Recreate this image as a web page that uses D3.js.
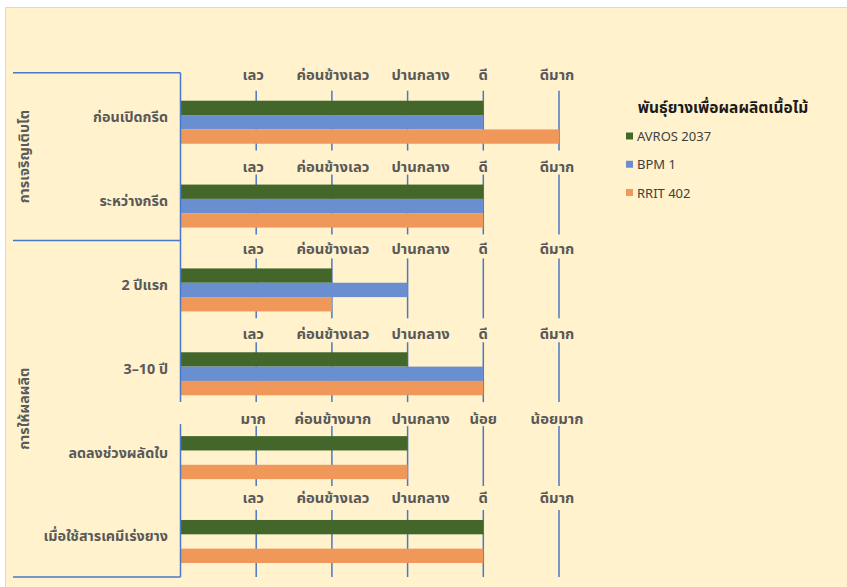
<!DOCTYPE html>
<html>
<head>
<meta charset="utf-8">
<script src="https://cdn.jsdelivr.net/npm/d3@7/dist/d3.min.js"></script>
<style>
  html, body { margin: 0; padding: 0; background: #ffffff; }
  svg { display: block; }
  text { font-family: "Noto Sans Thai", "Noto Sans Thai UI", "Leelawadee UI", Tahoma, "DejaVu Sans", sans-serif; }
</style>
</head>
<body>
<svg id="chart" width="847" height="587"></svg>
<script>
// Rubber clone ratings (0 = none, 1..5 = rating level)
const categories = ["ก่อนเปิดกรีด", "ระหว่างกรีด", "2 ปีแรก", "3–10 ปี", "ลดลงช่วงผลัดใบ", "เมื่อใช้สารเคมีเร่งยาง"];
const seriesNames = ["AVROS 2037", "BPM 1", "RRIT 402"];
const avros2037 = [4, 4, 2, 3, 3, 4];
const bpm1      = [4, 4, 3, 4, 0, 0];
const rrit402   = [5, 4, 2, 4, 3, 4];
const seriesValues = [avros2037, bpm1, rrit402];

// Level names shown above each category row
const qualityTicks = ["เลว", "ค่อนข้างเลว", "ปานกลาง", "ดี", "ดีมาก"];
const amountTicks  = ["มาก", "ค่อนข้างมาก", "ปานกลาง", "น้อย", "น้อยมาก"];
const rowTickSets  = [qualityTicks, qualityTicks, qualityTicks, qualityTicks, amountTicks, qualityTicks];

// Category groups drawn as bracketed panels on the left
const groupNames = ["การเจริญเติบโต", "การให้ผลผลิต"];
const groupMembers = [["ก่อนเปิดกรีด", "ระหว่างกรีด"], ["2 ปีแรก", "3–10 ปี", "ลดลงช่วงผลัดใบ", "เมื่อใช้สารเคมีเร่งยาง"]];

const legendTitle = "พันธุ์ยางเพื่อผลผลิตเนื้อไม้";
const colors = ["#43672b", "#6a8fd0", "#f0975a"];

const svg = d3.select("#chart");
const GRID = "#4a78c8";
const TEXT = "#595959";

// chart area
svg.append("rect").attr("x", 5.5).attr("y", 7.5).attr("width", 850).attr("height", 590)
  .attr("fill", "#fff2cc").attr("stroke", "#d9d9d9").attr("stroke-width", 1);

const x = d3.scaleLinear().domain([0, 5]).range([180.5, 559]);
const y = d3.scaleBand().domain(categories).range([80.3, 583.4]).paddingInner(0.487).paddingOuter(0.2435);
const ySeries = d3.scaleBand().domain(seriesNames).range([0, y.bandwidth()]).padding(0);
const levels = d3.range(1, 6);
const plotBottom = y(categories[categories.length - 1]) + y.bandwidth() + 14;

// gridline segments per row (interrupted by each row's level labels)
categories.forEach((c, i) => {
  const top = y(c) - 10;
  const bottom = i === categories.length - 1 ? plotBottom : y(c) + y.step() - 34;
  svg.append("g").selectAll("line").data(levels).join("line")
    .attr("x1", d => x(d)).attr("x2", d => x(d))
    .attr("y1", top).attr("y2", bottom)
    .attr("stroke", GRID).attr("stroke-width", 1.5);
});

// bars
const rows = svg.append("g").selectAll("g").data(categories).join("g")
  .attr("transform", c => `translate(0,${y(c)})`);
rows.selectAll("rect")
  .data((c, i) => seriesNames.map((s, k) => ({ s, k, v: seriesValues[k][i] })).filter(d => d.v > 0))
  .join("rect")
  .attr("x", x(0))
  .attr("y", d => ySeries(d.s))
  .attr("width", d => x(d.v) - x(0))
  .attr("height", ySeries.bandwidth())
  .attr("fill", d => colors[d.k]);

// level labels above each row
const labelLift = [21, 12.5, 14.5, 13.5, 12.5, 16.5];
const labelNudge = [-3, 1, 13, 0, -2];
categories.forEach((c, i) => {
  svg.append("g").selectAll("text").data(rowTickSets[i]).join("text")
    .attr("x", (t, k) => x(levels[k]) + labelNudge[k])
    .attr("y", y(c) - labelLift[i])
    .attr("text-anchor", "middle")
    .attr("font-size", 14.8).attr("font-weight", "bold").attr("fill", TEXT)
    .text(t => t);
});

// category labels
svg.append("g").selectAll("text").data(categories).join("text")
  .attr("x", 168).attr("y", c => y(c) + y.bandwidth() / 2)
  .attr("text-anchor", "end")
  .attr("font-size", 14.3).attr("font-weight", "bold").attr("fill", TEXT)
  .text(c => c);

// category axis line (broken where the amount labels sit)
const axisTop = y(categories[0]) - 28;
const breakRow = y(categories[4]);
[[axisTop, breakRow - 34], [breakRow - 12, plotBottom]].forEach(([a, b]) => {
  svg.append("line").attr("x1", x(0)).attr("x2", x(0)).attr("y1", a).attr("y2", b)
    .attr("stroke", GRID).attr("stroke-width", 1.5);
});

// group brackets and rotated group names
groupNames.forEach((g, gi) => {
  const members = groupMembers[gi];
  const gTop = gi === 0 ? axisTop : y(members[0]) - 28;
  const gBottom = gi === groupNames.length - 1 ? plotBottom : y(groupMembers[gi + 1][0]) - 28;
  svg.append("line").attr("x1", 13).attr("x2", x(0)).attr("y1", gTop).attr("y2", gTop)
    .attr("stroke", GRID).attr("stroke-width", 1.5);
  if (gi === groupNames.length - 1) {
    svg.append("line").attr("x1", 13).attr("x2", x(0)).attr("y1", gBottom).attr("y2", gBottom)
      .attr("stroke", GRID).attr("stroke-width", 1.5);
  }
  const cy = (gTop + gBottom) / 2;
  svg.append("text")
    .attr("transform", `translate(24,${cy}) rotate(-90)`)
    .attr("text-anchor", "middle").attr("dy", "0.35em")
    .attr("font-size", 14.3).attr("font-weight", "bold").attr("fill", TEXT)
    .text(g);
});

// legend
const legend = svg.append("g");
legend.append("text").attr("x", 723).attr("y", 113).attr("text-anchor", "middle")
  .attr("font-size", 15.5).attr("font-weight", "bold").attr("fill", "#1a1a1a")
  .text(legendTitle);
const legendY = d3.scalePoint().domain(seriesNames).range([136, 192.5]);
const items = legend.selectAll("g.item").data(seriesNames).join("g").attr("class", "item")
  .attr("transform", s => `translate(626,${legendY(s)})`);
items.append("rect").attr("x", 0).attr("y", -3.5).attr("width", 7).attr("height", 7)
  .attr("fill", (s, k) => colors[k]);
items.append("text").attr("x", 11).attr("y", 5)
  .attr("font-size", 13).attr("fill", "#404040")
  .text(s => s);
</script>
</body>
</html>
